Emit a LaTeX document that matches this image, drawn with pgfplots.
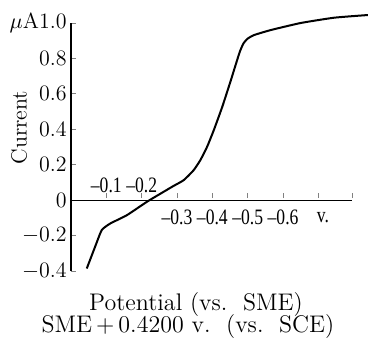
\documentclass[border=0pt]{standalone}
\usepackage{fontspec}
\usepackage{pgfplots}
\pgfplotsset{compat=1.18}
\newfontfamily\xtickfont{Liberation Serif}[FakeStretch=0.8]
\begin{document}
\begin{tikzpicture}
\path[use as bounding box] (-35.5pt,-38pt) rectangle (149pt,135.5pt);
\begin{axis}[
  at={(0,0)}, anchor=south west,
  scale only axis, width=140.5pt, height=124pt,
  xmin=0, xmax=0.795, ymin=-0.4, ymax=1.0,
  axis x line=middle, axis y line=left,
  axis line style={line width=0.6pt, -},
  clip=false,
  xtick={0.1,0.2,0.3,0.4,0.5,0.6,0.7,0.795},
  xticklabels={},
  xtick style={line width=0.5pt, yshift=1pt},
  ytick={-0.4,-0.2,0,0.2,0.4,0.6,0.8,1.0},
  yticklabels={$-$0.4,$-$0.2,0,0.2,0.4,0.6,0.8,{$\mu$A1.0}},
  ytick style={line width=0.4pt},
  tick align=inside,
  major tick length=2.5pt,
  yticklabel style={font=\fontsize{11}{13}\selectfont, inner sep=1pt, xshift=-1pt},
]
\addplot[black, line width=1pt, smooth, tension=0.3] coordinates {
(0.0446,-0.386) (0.068,-0.264) (0.087,-0.169) (0.111,-0.132) (0.158,-0.085)
(0.215,-0.009) (0.262,0.047) (0.290,0.080) (0.319,0.113) (0.347,0.169)
(0.366,0.226) (0.385,0.301) (0.404,0.395) (0.428,0.527) (0.452,0.675)
(0.466,0.765) (0.478,0.84) (0.488,0.885) (0.50,0.912) (0.518,0.932) (0.565,0.96)
(0.65,1.0) (0.745,1.03) (0.84,1.045)
};
\node[font=\xtickfont\fontsize{11}{13}\selectfont] at ([yshift=7.5pt]axis cs:0.1,0) {–0.1};
\node[font=\xtickfont\fontsize{11}{13}\selectfont] at ([yshift=7.5pt]axis cs:0.2,0) {–0.2};
\node[font=\xtickfont\fontsize{11}{13}\selectfont] at ([yshift=-8.5pt]axis cs:0.3,0) {–0.3};
\node[font=\xtickfont\fontsize{11}{13}\selectfont] at ([yshift=-8.5pt]axis cs:0.4,0) {–0.4};
\node[font=\xtickfont\fontsize{11}{13}\selectfont] at ([yshift=-8.5pt]axis cs:0.5,0) {–0.5};
\node[font=\xtickfont\fontsize{11}{13}\selectfont] at ([yshift=-8.5pt]axis cs:0.6,0) {–0.6};
\node[font=\xtickfont\fontsize{11}{13}\selectfont] at ([yshift=-8.5pt]axis cs:0.713,0) {v.};
\node[rotate=90, font=\fontsize{11}{13}\selectfont] at ([xshift=-26pt]axis cs:0,0.41) {Current};
\end{axis}
\node[font=\fontsize{12}{14}\selectfont, inner sep=0pt] at (62.5pt,-17pt) {Potential (vs.\ \ SME)};
\node[font=\fontsize{12}{14}\selectfont, inner sep=0pt] at (58.5pt,-28pt) {SME$\,+\,$0.4200 v.\ \ (vs.\ \ SCE)};
\end{tikzpicture}
\end{document}
